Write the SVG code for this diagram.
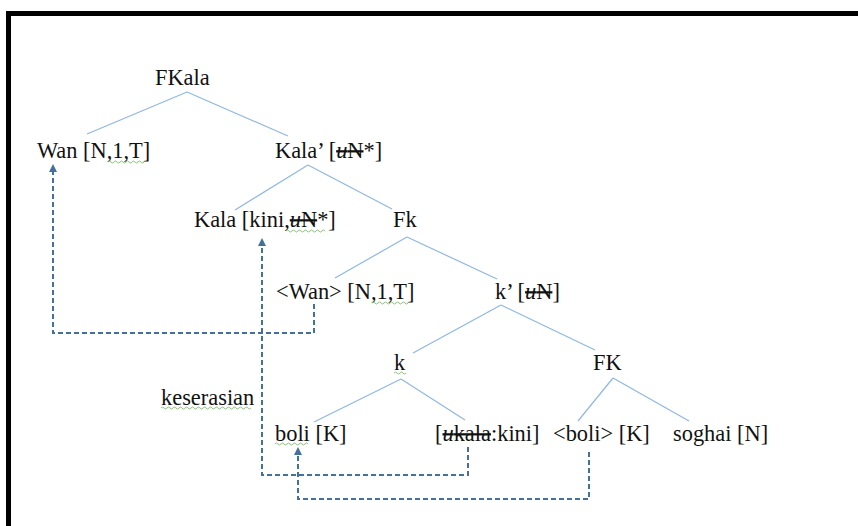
<svg xmlns="http://www.w3.org/2000/svg" width="858" height="526" viewBox="0 0 858 526">
<defs>
<style>
text{font-family:"Liberation Serif","Times New Roman",serif;font-size:22.4px;fill:#111}
.s{text-decoration:line-through}
.i{font-style:italic}
.tree line{stroke:#8fb8e0;stroke-width:1.2}
.dash{fill:none;stroke:#41719c;stroke-width:2;stroke-dasharray:5 3}
.sq{fill:none;stroke:#7dbb6a;stroke-width:0.9}
</style>
<marker id="ah" viewBox="0 0 8 8" refX="6" refY="4" markerWidth="8" markerHeight="8" markerUnits="userSpaceOnUse" orient="auto">
<path d="M0,0 L8,4 L0,8 Z" fill="#41719c"/>
</marker>
</defs>
<rect width="858" height="526" fill="#fff"/>
<path d="M8.5,526 V13.5 H858" fill="none" stroke="#000" stroke-width="5"/>

<g id="connectors">
<g class="tree">
<line x1="187" y1="92" x2="87" y2="134"/>
<line x1="187" y1="92" x2="288" y2="136"/>
<line x1="308" y1="165" x2="235" y2="210"/>
<line x1="308" y1="165" x2="392" y2="209"/>
<line x1="407" y1="237" x2="335" y2="278"/>
<line x1="407" y1="237" x2="497" y2="279"/>
<line x1="501" y1="305" x2="413" y2="353"/>
<line x1="501" y1="305" x2="595" y2="350"/>
<line x1="401" y1="379" x2="314" y2="422"/>
<line x1="401" y1="379" x2="465" y2="420"/>
<line x1="613" y1="378" x2="578" y2="421"/>
<line x1="613" y1="378" x2="689" y2="421"/>
</g>
<path class="dash" d="M314,304 V333 H53 V166" marker-end="url(#ah)"/>
<path class="dash" d="M468,447 V475 H262 V240" marker-end="url(#ah)"/>
<path class="dash" d="M589,452 V499 H298 V449" marker-end="url(#ah)"/>
</g>

<g id="n-fkala"><text x="155" y="85">FKala</text></g>
<g id="n-wan"><text x="37" y="158">Wan [N,1,T]</text>
<path class="sq" d="M108,162 q1.5,-2 3,0 t3,0 t3,0 t3,0 t3,0 t3,0 t3,0 t3,0 t3,0 t3,0 t3,0 t3,0"/></g>
<g id="n-kala1"><text x="275" y="158">Kala’ [<tspan class="s"><tspan class="i">u</tspan>N</tspan>*]</text></g>
<g id="n-kala"><text x="194" y="227">Kala [kini,<tspan class="s"><tspan class="i">u</tspan>N</tspan>*]</text>
<path class="sq" d="M286,231 q1.5,-2 3,0 t3,0 t3,0 t3,0 t3,0 t3,0 t3,0 t3,0 t3,0 t3,0 t3,0 t3,0 t3,0"/></g>
<g id="n-fk"><text x="393" y="227">Fk</text></g>
<g id="n-wan2"><text x="276" y="299">&lt;Wan&gt; [N,1,T]</text>
<path class="sq" d="M372,303 q1.5,-2 3,0 t3,0 t3,0 t3,0 t3,0 t3,0 t3,0 t3,0 t3,0 t3,0 t3,0 t3,0"/></g>
<g id="n-k1"><text x="495" y="299">k’ [<tspan class="s"><tspan class="i">u</tspan>N</tspan>]</text></g>
<g id="n-k"><text x="394" y="370">k</text>
<path class="sq" d="M394,373 q1.5,-2 3,0 t3,0 t3,0 t3,0"/></g>
<g id="n-FK"><text x="593" y="370">FK</text></g>
<g id="n-keserasian"><text x="161" y="405">keserasian</text>
<path class="sq" d="M161,408 q1.5,-2 3,0 t3,0 t3,0 t3,0 t3,0 t3,0 t3,0 t3,0 t3,0 t3,0 t3,0 t3,0 t3,0 t3,0 t3,0 t3,0 t3,0 t3,0 t3,0 t3,0 t3,0 t3,0 t3,0 t3,0 t3,0 t3,0 t3,0 t3,0 t3,0 t3,0"/></g>
<g id="n-boli"><text x="275" y="441">boli [K]</text>
<path class="sq" d="M275,444 q1.5,-2 3,0 t3,0 t3,0 t3,0 t3,0 t3,0 t3,0 t3,0 t3,0 t3,0 t3,0"/></g>
<g id="n-ukala"><text x="435" y="441">[<tspan class="s"><tspan class="i">u</tspan>kala</tspan>:kini]</text></g>
<g id="n-boli2"><text x="553" y="441">&lt;boli&gt; [K]</text></g>
<g id="n-soghai"><text x="673" y="441">soghai [N]</text></g>
</svg>
